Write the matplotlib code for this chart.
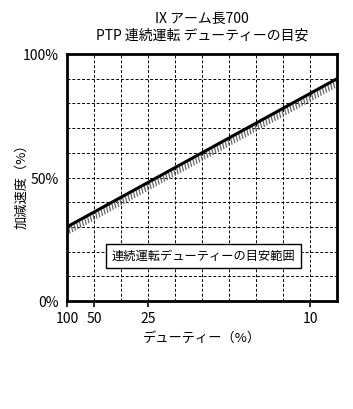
import matplotlib
matplotlib.use("Agg")
import matplotlib.pyplot as plt
from matplotlib import patheffects
import numpy as np

plt.rcParams['font.family'] = ['Noto Sans CJK JP', 'DejaVu Sans']

# Data: x axis is 100/duty(%)  (1 .. 11)
duty_ticks = [100, 50, 25, 10]
duty_labels = ["100", "50", "25", "10"]
line_x = [1, 11]          # 100/duty
line_y = [30, 90]         # acceleration %
y_ticks = [0, 50, 100]
y_labels = ["0%", "50%", "100%"]
title_lines = ["IX アーム長700", "PTP 連続運転 デューティーの目安"]
box_text = "連続運転デューティーの目安範囲"

fig = plt.figure(figsize=(3.53, 4.10), dpi=100)
ax = fig.add_axes([67/353, 1-302/410, 270/353, 247/410])

ax.set_xlim(1, 11)
ax.set_ylim(0, 100)

# grid
for gx in np.arange(2, 11):
    ax.axvline(gx, color='black', lw=0.7, ls=(0, (3, 2)), zorder=1)
for gy in np.arange(10, 100, 10):
    ax.axhline(gy, color='black', lw=0.7, ls=(0, (3, 2)), zorder=1)

# hatched ticks below the line
ax.plot(line_x, line_y, color='#666666', lw=0.9, zorder=2,
        path_effects=[patheffects.TickedStroke(spacing=2.2, angle=-105, length=2.3)])
ax.plot(line_x, line_y, color='black', lw=2.2, zorder=3, solid_capstyle='butt')

ax.text(6.05, 18.3, box_text, ha='center', va='center', fontsize=8.8, zorder=4,
        bbox=dict(boxstyle='square,pad=0.45', fc='white', ec='black', lw=1.0))

xt = [100 / d for d in duty_ticks]
ax.set_xticks(xt)
ax.set_xticklabels(duty_labels, fontsize=10)
ax.set_yticks(y_ticks)
ax.set_yticklabels(y_labels, fontsize=10)
ax.tick_params(axis='x', direction='out', length=4, width=1.2, pad=3)
ax.tick_params(axis='y', length=0, pad=6)
for s in ax.spines.values():
    s.set_linewidth(2.0)

ax.set_xlabel("デューティー（%）", fontsize=9.5, labelpad=4)
ax.set_ylabel("加減速度（%）", fontsize=9.5, va='center')
ax.yaxis.set_label_coords(-45/270, 0.48)
ax.set_title("\n".join(title_lines), fontsize=10, linespacing=1.25, pad=11)

fig.savefig("out.png", dpi=100)
